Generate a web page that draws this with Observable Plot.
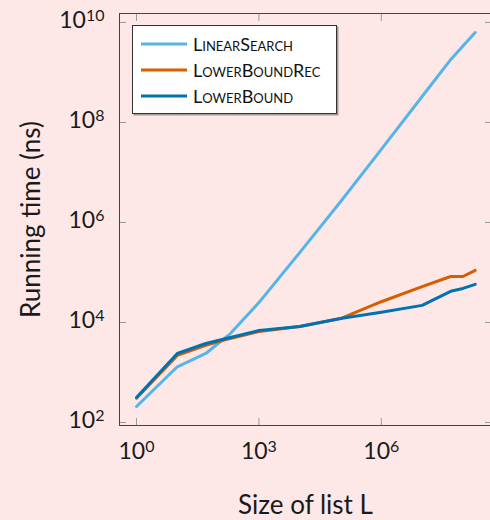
<!DOCTYPE html>
<html><head><meta charset="utf-8">
<script src="https://cdn.jsdelivr.net/npm/d3@7"></script>
<script src="https://cdn.jsdelivr.net/npm/@observablehq/plot@0.6"></script>
<style>
html,body{margin:0;padding:0;background:#fde8e7;overflow:hidden;}
#wrap{position:relative;width:490px;height:520px;overflow:hidden;font-family:Lato,"Open Sans",sans-serif;color:#1a1a1a;}
#chart svg{max-width:none !important;}
#legend{position:absolute;left:132px;top:25px;width:203px;height:87px;background:#fff;border:1px solid #333;box-shadow:1.5px 1.5px 0 rgba(0,0,0,.35);}
.item{position:absolute;left:8px;height:22px;display:flex;align-items:center;}
.item svg{display:block;margin-right:6px;}
.item span{font-size:18px;font-variant:small-caps;line-height:22px;color:#111;}
</style>
</head><body>
<div id="wrap"><div id="chart"></div><div id="legend"></div></div>
<script>
const sizes = [1, 10, 50, 200, 1e3, 1e4, 1e5, 1e6, 1e7, 5e7, 1e8, 2e8];
const seriesNames = ["LinearSearch", "LowerBoundRec", "LowerBound"];
const seriesColors = ["#56B4E9", "#D55E00", "#0072B2"];
const linearSearch = [209, 1300, 2400, 6000, 25000, 2.5e5, 2.6e6, 2.9e7, 3.3e8, 1.8e9, 3.4e9, 6.3e9];
const lowerBoundRec = [305, 2200, 3500, 4800, 6600, 8300, 12000, 26000, 52000, 83000, 83000, 110000];
const lowerBound = [316, 2400, 3800, 5000, 6900, 8300, 12000, 16000, 22000, 42000, 48000, 58000];
const xTicks = [1, 1e3, 1e6];
const yTicks = [1e2, 1e4, 1e6, 1e8, 1e10];
const xLabel = "Size of list L";
const yLabel = "Running time (ns)";

const seriesValues = [linearSearch, lowerBoundRec, lowerBound];
const data = seriesNames.flatMap((name, i) => sizes.map((x, j) => ({series: name, x, y: seriesValues[i][j]})));
const expFmt = d => `10^${Math.round(Math.log10(d))}`;
const tickStyle = {tickSize: -7, tickFormat: () => "", label: null, stroke: "#9a9a9a"};

const chart = Plot.plot({
  width: 495, height: 520,
  marginLeft: 119, marginRight: 4, marginTop: 13, marginBottom: 95,
  style: {background: "transparent", fontFamily: "Lato, 'Open Sans', sans-serif", color: "#1a1a1a", maxWidth: "none"},
  x: {type: "log", domain: [0.383, 5.02e8]},
  y: {type: "log", domain: [87.1, 1.51e10]},
  color: {domain: seriesNames, range: seriesColors},
  marks: [
    Plot.axisX({anchor: "bottom", ticks: xTicks, ...tickStyle}),
    Plot.axisX({anchor: "top", ticks: xTicks, ...tickStyle}),
    Plot.axisY({anchor: "left", ticks: yTicks, ...tickStyle}),
    Plot.axisY({anchor: "right", ticks: yTicks, ...tickStyle}),
    Plot.axisX({anchor: "bottom", ticks: xTicks, tickSize: 0, tickPadding: 17, tickFormat: expFmt, fontSize: 23, label: null}),
    Plot.axisY({anchor: "left", ticks: yTicks, tickSize: 0, tickPadding: 15, tickFormat: expFmt, fontSize: 23, label: null, dy: -2}),
    Plot.line(data, {x: "x", y: "y", z: "series", stroke: "series", strokeWidth: 3, strokeLinejoin: "round"}),
    Plot.frame({stroke: "#444"}),
    Plot.text([xLabel], {text: d => d, frameAnchor: "bottom", textAnchor: "middle", dy: 88, fontSize: 26}),
    Plot.text([yLabel], {text: d => d, frameAnchor: "left", textAnchor: "middle", dx: -88, rotate: -90, fontSize: 26})
  ]
});
document.getElementById("chart").appendChild(chart);

// superscript exponents in tick labels
const svgns = "http://www.w3.org/2000/svg";
chart.querySelectorAll('g[aria-label="x-axis tick label"] text, g[aria-label="y-axis tick label"] text').forEach(t => {
  const m = t.textContent.match(/^10\^(-?\d+)$/);
  if (!m) return;
  t.textContent = "10";
  const sup = document.createElementNS(svgns, "tspan");
  sup.setAttribute("dy", "-7");
  sup.setAttribute("font-size", "16");
  sup.textContent = m[1];
  t.appendChild(sup);
});

// legend
const legend = document.getElementById("legend");
seriesNames.forEach((name, i) => {
  const item = document.createElement("div");
  item.className = "item";
  item.style.top = (7 + i * 26) + "px";
  item.innerHTML = `<svg width="46" height="4"><line x1="0" x2="46" y1="2" y2="2" stroke="${seriesColors[i]}" stroke-width="3"/></svg><span>${name}</span>`;
  legend.appendChild(item);
});
</script>
</body></html>
